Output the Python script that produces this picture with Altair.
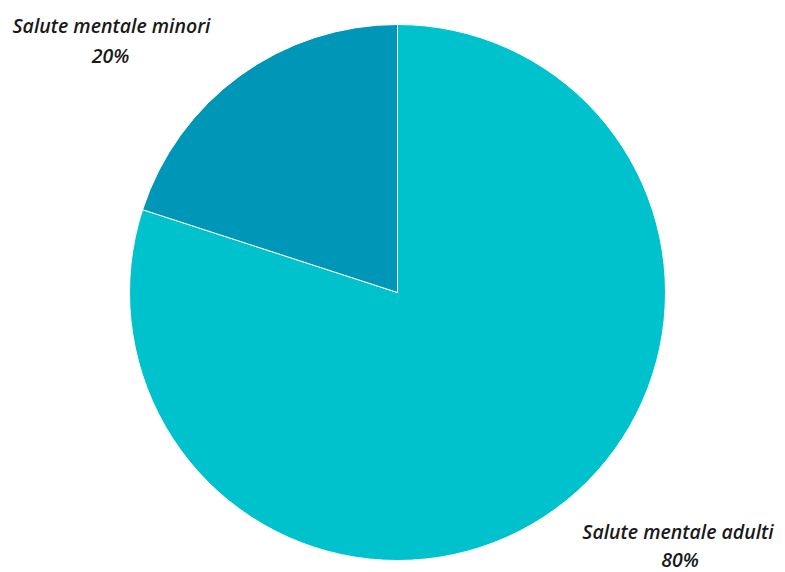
import altair as alt
import pandas as pd

categories = ["Salute mentale adulti", "Salute mentale minori"]
values = [80, 20]
colors = ["#00C2CC", "#0096B8"]
order = [1, 2]

df = pd.DataFrame({"cat": categories, "val": values, "ord": order})

pie = alt.Chart(df).mark_arc(radius=268, stroke="white", strokeWidth=1).encode(
    theta=alt.Theta("val:Q", stack=True),
    order=alt.Order("ord:Q"),
    color=alt.Color("cat:N", scale=alt.Scale(domain=categories, range=colors), legend=None),
    x=alt.value(389.5),
    y=alt.value(284.5),
)

font = "Open Sans"

def label(text, x, y):
    return alt.Chart(pd.DataFrame({"t": [text]})).mark_text(
        font=font, fontSize=19.5, fontStyle="italic", fontWeight=600, color="#1a1a1a",
        align="center", baseline="middle",
    ).encode(text="t:N", x=alt.value(x), y=alt.value(y))

l1 = label(f"{categories[1]}", 103.5, 19)
l2 = label(f"{values[1]}%", 102.5, 48.5)
l3 = label(f"{categories[0]}", 670, 524.5)
l4 = label(f"{values[0]}%", 672, 552.5)

chart = alt.layer(pie, l1, l2, l3, l4).properties(
    width=769, height=564,
    autosize=alt.AutoSizeParams(type="none"),
    padding=0,
).configure_view(stroke=None)

chart.save("out.html", embed_options={"renderer": "svg", "actions": False})
